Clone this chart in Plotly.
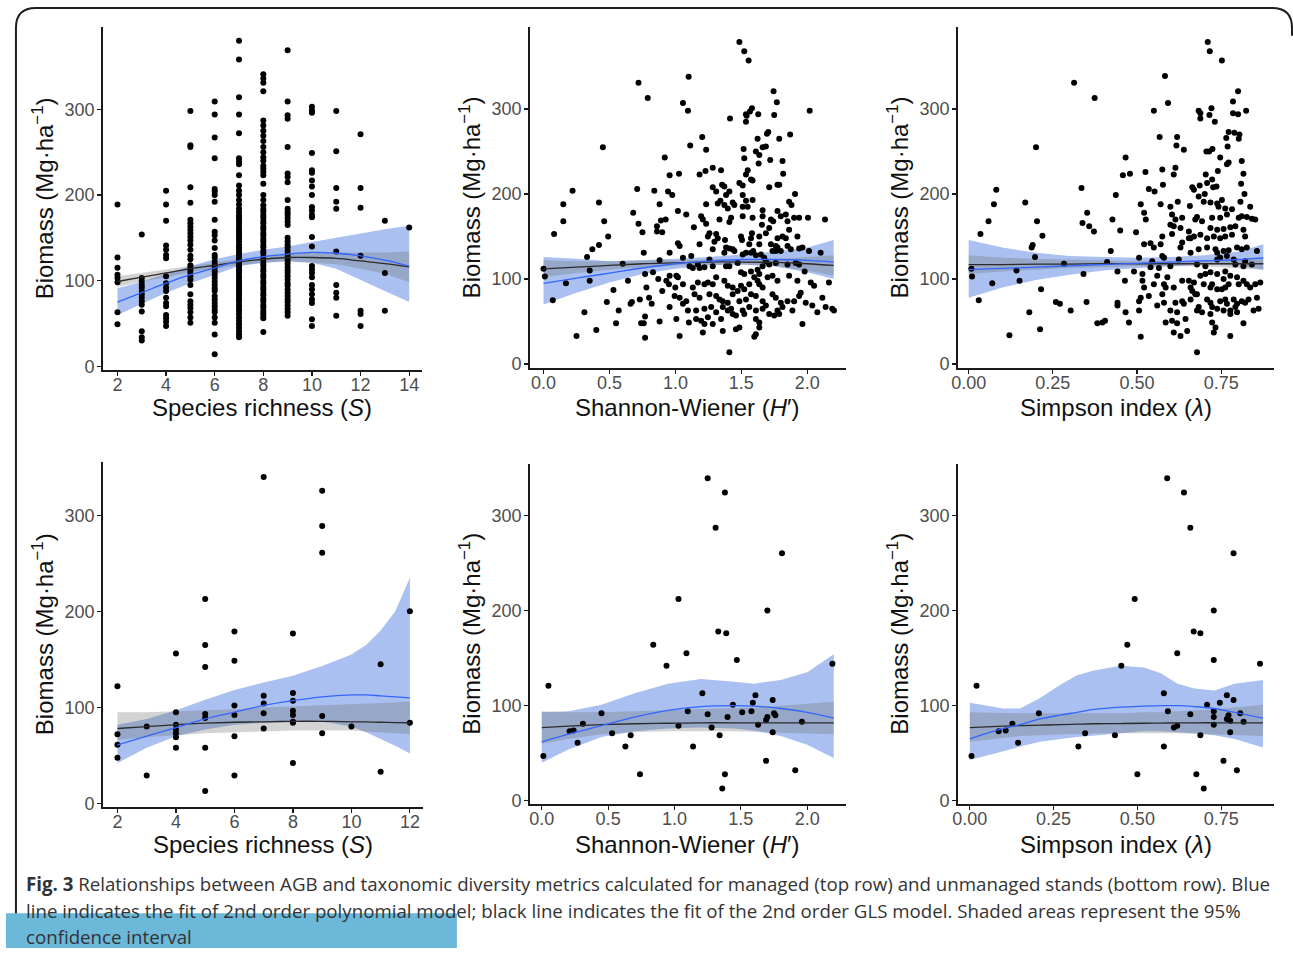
import plotly.graph_objects as go

W, H = 1293, 955

# ---------------- data ----------------
# Managed stands (top row)
top_S_values = [2, 3, 4, 5, 6, 7, 8, 9, 10, 11, 12, 13, 14]
top_S_biomass = [
    [189, 127, 115, 107, 103, 98, 63, 49],
    [154, 103, 99, 95, 92, 88, 84, 80, 76, 72, 64, 41, 34, 30],
    [205, 189, 170, 141, 136, 130, 126, 105, 97, 92, 88, 80, 74, 70, 60, 56, 52, 47],
    [298, 258, 256, 209, 191, 171, 167, 163, 159, 155, 151, 147, 142, 136, 129, 125, 118, 115, 112, 109,
     105, 101, 95, 84, 76, 72, 68, 63, 57, 51],
    [309, 294, 267, 243, 207, 204, 200, 192, 171, 157, 153, 147, 138, 130, 127, 122, 118, 115, 111, 107,
     103, 99, 95, 91, 88, 82, 78, 74, 70, 66, 63, 57, 51, 37, 14],
    [380, 358, 314, 294, 272, 243, 239, 236, 223, 211, 205, 200, 194, 189, 184, 180, 176, 173, 171, 168,
     164, 161, 158, 155, 152, 149, 146, 142, 139, 136, 133, 130, 127, 124, 121, 118, 115, 112, 109, 105,
     102, 99, 96, 93, 90, 87, 84, 81, 78, 75, 71, 68, 65, 61, 57, 53, 49, 45, 41, 37, 34],
    [341, 336, 331, 321, 287, 281, 275, 269, 263, 256, 250, 244, 240, 234, 231, 227, 223, 213, 200, 194,
     188, 184, 181, 177, 174, 170, 167, 163, 160, 156, 153, 149, 146, 142, 139, 135, 132, 128, 125, 121,
     118, 114, 111, 107, 104, 100, 97, 93, 90, 86, 83, 79, 76, 72, 69, 65, 62, 59, 56, 40],
    [369, 309, 293, 289, 256, 225, 221, 215, 194, 184, 180, 177, 173, 169, 165, 150, 146, 142, 139, 135,
     131, 128, 124, 120, 116, 112, 109, 105, 101, 97, 94, 90, 86, 82, 78, 75, 71, 67, 63, 59],
    [303, 299, 296, 249, 229, 226, 217, 210, 200, 186, 182, 177, 174, 151, 140, 117, 113, 109, 104, 95,
     90, 84, 78, 74, 55, 47],
    [298, 251, 208, 192, 184, 134, 95, 86, 80, 59],
    [271, 208, 185, 129, 65, 61, 47],
    [170, 109, 65],
    [162],
]

top_H_points = [
    (0.00, 112), (0.01, 103), (0.07, 75), (0.08, 153), (0.15, 188), (0.15, 168), (0.17, 95), (0.22, 204),
    (0.25, 33), (0.31, 61), (0.33, 126), (0.35, 110), (0.35, 98), (0.37, 135), (0.40, 40), (0.42, 190),
    (0.42, 140), (0.45, 255), (0.46, 168), (0.48, 73), (0.49, 150), (0.53, 87), (0.55, 48), (0.57, 63),
    (0.60, 118), (0.64, 98), (0.66, 71), (0.67, 73), (0.68, 178), (0.71, 206), (0.72, 165), (0.72, 331),
    (0.73, 76), (0.74, 48), (0.75, 155), (0.76, 131), (0.76, 48), (0.77, 56), (0.77, 106), (0.77, 31),
    (0.78, 90), (0.79, 313), (0.80, 78), (0.82, 71), (0.83, 108), (0.84, 204), (0.86, 162), (0.86, 156),
    (0.87, 100), (0.88, 50), (0.88, 188), (0.88, 122), (0.89, 169), (0.90, 86), (0.90, 155),
    (1.485, 379), (1.522, 368), (1.555, 357), (1.100, 338), (1.744, 321), (1.769, 308), (1.057, 307),
    (1.095, 298), (1.580, 301), (1.565, 297), (1.535, 294), (1.540, 292), (1.628, 294), (1.749, 293),
    (1.414, 289), (1.535, 285), (2.018, 298), (1.704, 273), (1.694, 271), (1.203, 267), (1.623, 265),
    (1.787, 265), (1.870, 270), (1.112, 257), (1.233, 252), (1.517, 253), (1.661, 255), (1.686, 256),
    (1.610, 250), (1.636, 246), (0.919, 243), (1.522, 242), (1.719, 240), (1.812, 239), (1.631, 236),
    (1.283, 231), (1.228, 227), (1.183, 223), (1.346, 228), (0.956, 222), (1.027, 224), (1.548, 228),
    (1.817, 224), (1.535, 223), (1.573, 217), (1.585, 216), (1.485, 213), (1.510, 210), (1.354, 211),
    (1.283, 208), (1.309, 203), (1.371, 209), (1.409, 203), (1.711, 208), (1.774, 211), (1.787, 211),
    (0.944, 203), (0.976, 199), (1.907, 200), (1.510, 199), (1.384, 199), (1.341, 192), (1.434, 190),
    (1.321, 189), (1.371, 187), (1.447, 187), (1.535, 192), (1.585, 193), (1.233, 188), (1.862, 191),
    (1.880, 187), (1.397, 183), (1.510, 185), (1.548, 185), (1.019, 180), (1.082, 176), (1.661, 181),
    (1.774, 180), (1.799, 174), (1.837, 176), (1.195, 174), (1.208, 170), (1.233, 165), (1.140, 161),
    (0.926, 170), (1.422, 172), (1.510, 174), (1.661, 174), (1.585, 172), (1.724, 170), (1.741, 168),
    (1.900, 172), (1.938, 172), (2.005, 172), (2.134, 170), (1.409, 167), (1.334, 170), (1.656, 164),
    (1.711, 160), (1.850, 168), (1.862, 158), (1.258, 154), (1.246, 150), (1.309, 153), (1.321, 148),
    (1.580, 154), (1.573, 148), (1.636, 150), (1.376, 146), (1.497, 150), (1.505, 146), (1.686, 154),
    (1.774, 148), (1.812, 150), (1.837, 148), (1.925, 150), (1.019, 142), (1.032, 139), (1.183, 141),
    (1.296, 144), (1.560, 141), (1.636, 141), (1.724, 141), (1.761, 139), (1.774, 137), (1.850, 139),
    (1.283, 135), (1.384, 137), (1.409, 136), (1.434, 135), (1.447, 133), (1.371, 131), (1.510, 129),
    (1.535, 131), (1.573, 131), (1.590, 133), (1.610, 128), (1.648, 129), (1.673, 125), (1.686, 121),
    (1.736, 133), (1.761, 133), (1.799, 133), (1.875, 135), (1.938, 136), (1.963, 137), (2.013, 133),
    (2.101, 131), (0.956, 131), (1.120, 127), (1.057, 125), (1.258, 123), (1.283, 115), (1.170, 117),
    (1.183, 113), (1.132, 113), (1.107, 115), (1.220, 114), (1.384, 115), (1.409, 115), (1.472, 119),
    (1.497, 108), (1.522, 106), (1.573, 109), (1.623, 111), (1.636, 106), (1.661, 115), (1.711, 117),
    (1.761, 119), (1.850, 117), (1.912, 119), (1.938, 117), (1.980, 109), (0.956, 104), (0.931, 98),
    (1.007, 104), (1.019, 102), (0.951, 94), (0.999, 90), (1.057, 94), (1.132, 90), (1.170, 96),
    (1.220, 94), (1.246, 96), (1.283, 94), (1.309, 102), (1.371, 98), (1.397, 92), (1.434, 90),
    (1.472, 86), (1.497, 92), (1.522, 88), (1.560, 94), (1.598, 102), (1.623, 98), (1.636, 94),
    (1.661, 90), (1.699, 102), (1.736, 104), (1.774, 98), (1.862, 104), (1.925, 98), (2.026, 96),
    (2.051, 92), (2.164, 96), (0.994, 80), (1.032, 78), (1.082, 74), (1.145, 82), (1.183, 78),
    (1.258, 82), (1.309, 80), (1.334, 76), (1.359, 74), (1.397, 72), (1.434, 82), (1.485, 74),
    (1.535, 76), (1.573, 82), (1.610, 80), (1.661, 74), (1.686, 69), (1.736, 82), (1.761, 78),
    (1.799, 72), (1.850, 74), (1.900, 74), (1.938, 80), (1.950, 84), (1.988, 72), (2.114, 78),
    (2.139, 67), (2.202, 63), (2.189, 65), (0.956, 67), (1.057, 71), (1.095, 63), (1.157, 63),
    (1.220, 65), (1.271, 67), (1.309, 61), (1.359, 67), (1.397, 63), (1.422, 65), (1.434, 59),
    (1.510, 63), (1.560, 67), (1.610, 63), (1.661, 65), (1.711, 59), (1.749, 57), (1.774, 63),
    (1.787, 59), (1.812, 67), (1.887, 63), (2.038, 69), (2.076, 61), (1.007, 53), (1.102, 49),
    (1.157, 53), (1.195, 51), (1.246, 55), (1.283, 47), (1.346, 53), (1.459, 57), (1.522, 59),
    (1.610, 53), (1.636, 49), (1.220, 47), (1.485, 43), (1.636, 43), (1.963, 47), (1.032, 33),
    (1.208, 37), (1.359, 39), (1.459, 41), (1.610, 35), (1.598, 32), (1.409, 14),
]

top_L_points = [
    (0.008, 112), (0.010, 103), (0.030, 75), (0.035, 153), (0.059, 168), (0.070, 95), (0.075, 188),
    (0.082, 205), (0.121, 34), (0.142, 110), (0.151, 98), (0.168, 190), (0.180, 61), (0.187, 137),
    (0.190, 140), (0.197, 126), (0.200, 255), (0.203, 168), (0.212, 41), (0.215, 88), (0.219, 151),
    (0.259, 73), (0.271, 71), (0.283, 118), (0.303, 63), (0.313, 331), (0.335, 207), (0.338, 166),
    (0.341, 106), (0.350, 73), (0.352, 178), (0.358, 162), (0.372, 156), (0.374, 313), (0.382, 48),
    (0.397, 49), (0.405, 51), (0.411, 120),
    (0.710, 379), (0.716, 368), (0.752, 357), (0.583, 339), (0.800, 321), (0.592, 307), (0.550, 298),
    (0.785, 309), (0.683, 298), (0.688, 295), (0.688, 289), (0.721, 301), (0.715, 293), (0.731, 285),
    (0.824, 298), (0.785, 295), (0.800, 294), (0.567, 267), (0.619, 267), (0.617, 257), (0.639, 252),
    (0.772, 273), (0.765, 266), (0.789, 272), (0.804, 270), (0.802, 265), (0.769, 256), (0.706, 250),
    (0.714, 250), (0.724, 253), (0.466, 243), (0.614, 231), (0.609, 223), (0.575, 229), (0.525, 226),
    (0.479, 224), (0.458, 222), (0.747, 243), (0.772, 237), (0.767, 235), (0.811, 239), (0.740, 227),
    (0.816, 224), (0.704, 223), (0.723, 217), (0.708, 213), (0.577, 211), (0.535, 206), (0.552, 203),
    (0.664, 208), (0.669, 205), (0.686, 210), (0.701, 200), (0.726, 208), (0.736, 209), (0.809, 212),
    (0.819, 200), (0.437, 199), (0.683, 197), (0.698, 191), (0.752, 193), (0.718, 190), (0.738, 189),
    (0.742, 185), (0.762, 183), (0.782, 182), (0.807, 191), (0.836, 185), (0.511, 188), (0.570, 188),
    (0.599, 185), (0.621, 191), (0.657, 186), (0.521, 178), (0.526, 170), (0.604, 176), (0.614, 170),
    (0.634, 172), (0.678, 173), (0.673, 170), (0.693, 168), (0.723, 172), (0.747, 172), (0.767, 176),
    (0.802, 172), (0.811, 174), (0.826, 173), (0.841, 171), (0.851, 170), (0.427, 170), (0.450, 157),
    (0.497, 155), (0.599, 164), (0.609, 162), (0.629, 160), (0.654, 156), (0.669, 150), (0.688, 152),
    (0.718, 160), (0.738, 158), (0.757, 159), (0.777, 161), (0.792, 162), (0.816, 158), (0.575, 150),
    (0.604, 153), (0.654, 148), (0.659, 148), (0.708, 148), (0.728, 150), (0.747, 148), (0.762, 150),
    (0.782, 152), (0.821, 150), (0.521, 141), (0.540, 142), (0.550, 137), (0.570, 141), (0.634, 143),
    (0.629, 137), (0.683, 135), (0.708, 137), (0.733, 135), (0.738, 131), (0.757, 133), (0.772, 134),
    (0.797, 137), (0.811, 135), (0.826, 137), (0.856, 133), (0.575, 127), (0.580, 125), (0.624, 123),
    (0.659, 131), (0.506, 125), (0.422, 133), (0.545, 121), (0.540, 114), (0.565, 113), (0.599, 115),
    (0.678, 117), (0.703, 115), (0.738, 123), (0.747, 125), (0.767, 127), (0.787, 123), (0.821, 121),
    (0.792, 117), (0.816, 115), (0.841, 117), (0.442, 109), (0.491, 109), (0.516, 106), (0.560, 104),
    (0.590, 102), (0.634, 98), (0.654, 98), (0.669, 96), (0.688, 104), (0.703, 106), (0.718, 108),
    (0.738, 106), (0.762, 109), (0.777, 104), (0.757, 100), (0.797, 102), (0.816, 98), (0.464, 98),
    (0.516, 98), (0.521, 90), (0.550, 94), (0.580, 94), (0.585, 90), (0.609, 90), (0.659, 90),
    (0.664, 86), (0.673, 82), (0.698, 94), (0.718, 90), (0.723, 94), (0.738, 88), (0.752, 88),
    (0.762, 90), (0.772, 94), (0.802, 94), (0.826, 94), (0.836, 90), (0.866, 96), (0.851, 94),
    (0.442, 72), (0.442, 69), (0.506, 74), (0.511, 78), (0.535, 80), (0.575, 82), (0.580, 72),
    (0.614, 72), (0.634, 74), (0.639, 71), (0.659, 76), (0.678, 82), (0.683, 67), (0.708, 76),
    (0.718, 72), (0.723, 67), (0.747, 74), (0.762, 76), (0.767, 71), (0.787, 76), (0.797, 71),
    (0.811, 74), (0.821, 72), (0.831, 76), (0.856, 78), (0.466, 61), (0.506, 63), (0.560, 69),
    (0.599, 63), (0.619, 61), (0.678, 63), (0.693, 61), (0.718, 59), (0.738, 65), (0.757, 63),
    (0.777, 63), (0.792, 67), (0.797, 61), (0.846, 63), (0.861, 65), (0.476, 49), (0.585, 49),
    (0.604, 51), (0.619, 48), (0.644, 53), (0.723, 49), (0.733, 43), (0.777, 59), (0.816, 48),
    (0.511, 32), (0.609, 37), (0.629, 33), (0.649, 39), (0.728, 37), (0.777, 33), (0.678, 14),
]

# Unmanaged stands (bottom row)
bot_S_values = [2, 3, 4, 5, 6, 7, 8, 9, 10, 11, 12]
bot_S_biomass = [
    [122, 72, 61, 47.5],
    [80, 29],
    [156, 95, 82, 77, 73, 69, 58],
    [213, 165, 142, 93, 89, 58, 13],
    [179, 148.5, 102, 92, 70, 29],
    [340, 112, 104, 94, 78],
    [177, 115, 107, 96.5, 92, 85, 84, 42],
    [325.5, 289, 261, 91, 73],
    [80],
    [145, 33],
    [200, 84],
]

bot_H_points = [
    (0.012, 47), (0.05, 121), (0.21, 73), (0.24, 74), (0.27, 61), (0.31, 81), (0.45, 92), (0.53, 71),
    (0.63, 57), (0.67, 69), (0.74, 28), (0.84, 164), (0.94, 142), (1.03, 212), (1.03, 79), (1.09, 155),
    (1.10, 94), (1.14, 57), (1.21, 113), (1.25, 339), (1.25, 91), (1.28, 77), (1.31, 287), (1.33, 178),
    (1.34, 69), (1.36, 13), (1.38, 28), (1.38, 324), (1.39, 176), (1.40, 88), (1.44, 101), (1.47, 148),
    (1.51, 93), (1.58, 94), (1.59, 103), (1.61, 111), (1.63, 80), (1.69, 85), (1.70, 88), (1.70, 200),
    (1.69, 42), (1.74, 106), (1.74, 72), (1.75, 92), (1.76, 90), (1.81, 260), (1.91, 32), (1.96, 83),
    (2.19, 144),
]

bot_L_points = [
    (0.005, 47), (0.02, 121), (0.086, 73), (0.107, 74), (0.127, 81), (0.144, 61), (0.206, 92),
    (0.324, 57), (0.344, 71), (0.433, 69), (0.452, 142), (0.470, 164), (0.492, 212), (0.50, 28),
    (0.579, 113), (0.579, 57), (0.589, 339), (0.591, 94), (0.609, 77), (0.619, 155), (0.619, 79),
    (0.639, 324), (0.658, 287), (0.658, 91), (0.668, 178), (0.676, 28), (0.688, 176), (0.688, 69),
    (0.698, 13), (0.708, 101), (0.728, 200), (0.728, 148), (0.728, 94), (0.728, 88), (0.728, 80),
    (0.746, 103), (0.757, 42), (0.767, 111), (0.767, 86), (0.772, 90), (0.777, 84), (0.777, 72),
    (0.787, 106), (0.787, 260), (0.797, 32), (0.807, 92), (0.817, 83), (0.866, 144),
]

# Fitted curves and 95% CI (blue: polynomial model, black: GLS model)
p1_x = [2, 3, 4, 5, 6, 7, 8, 9, 10, 11, 12, 13, 14]
p1_blue = [75, 86, 97, 107, 115, 123, 128, 131, 133, 132, 129, 124, 117]
p1_blue_lo = [60, 73, 86, 97, 107, 117, 121, 123, 121, 114, 101, 88, 75]
p1_blue_hi = [91, 99, 108, 117, 125, 131, 136, 140, 145, 150, 155, 160, 164]
p1_black = [99, 104, 109, 114, 118, 122, 125, 127, 127, 126, 123, 120, 116]
p1_gray_lo = [93, 99, 104, 110, 114, 118, 121, 122, 121, 119, 114, 108, 98]
p1_gray_hi = [105, 109, 113, 117, 121, 125, 128, 131, 133, 133, 133, 133, 134]

p2_x = [0, 0.25, 0.5, 0.75, 1.0, 1.25, 1.5, 1.75, 2.0, 2.2]
p2_blue = [95, 101, 107, 113, 118, 121, 123, 123, 122, 120]
p2_blue_lo = [70, 84, 96, 106, 112, 116, 117, 115, 108, 100]
p2_blue_hi = [126, 124, 121, 122, 124, 126, 129, 132, 137, 146]
p2_black = [112, 114, 116, 118, 119, 120, 120, 119.5, 118, 116]
p2_gray_lo = [102, 107, 111, 114, 116, 117, 117, 115, 110, 104]
p2_gray_hi = [122, 121, 121, 122, 122, 123, 123, 124, 126, 128]

p3_x = [0, 0.1, 0.2, 0.3, 0.4, 0.5, 0.6, 0.7, 0.8, 0.875]
p3_blue = [111, 112.5, 114, 115.5, 117, 118.5, 120, 121.5, 123, 125]
p3_blue_lo = [78, 90, 99, 105, 110, 113, 115, 117, 116, 111]
p3_blue_hi = [146, 137, 131, 127, 126, 125, 126, 128, 132, 141]
p3_black = [117, 117, 117.5, 117.5, 118, 118, 118, 118, 118, 118]
p3_gray_lo = [106, 109, 111, 113, 114, 115, 115, 115, 113, 111]
p3_gray_hi = [128, 125, 124, 123, 122, 121, 121, 121, 123, 126]

p4_x = [2, 3, 4, 5, 6, 7, 8, 9, 10, 10.5, 11, 11.5, 12]
p4_blue = [61, 70, 79, 88, 95, 102, 107, 111, 113, 113, 112, 111, 110]
p4_blue_lo = [42, 58, 70, 77, 82, 84, 85, 85, 80, 74, 67, 60, 52]
p4_blue_hi = [82, 88, 97, 108, 118, 126, 133, 143, 155, 165, 180, 200, 235]
p4_black = [78, 80, 82, 83.5, 84.5, 85, 85.5, 85.5, 85, 84.8, 84.5, 84.2, 84]
p4_gray_lo = [66, 69, 71, 73, 74, 75, 76, 76, 76, 75, 74, 73, 72]
p4_gray_hi = [95, 95, 96, 97, 98, 100, 101, 102, 103, 103.5, 104, 105, 106]

p5_x = [0, 0.2, 0.45, 0.7, 0.95, 1.2, 1.45, 1.6, 1.8, 2.0, 2.2]
p5_blue = [62, 70, 79, 88, 95, 99, 100, 99.5, 97, 93, 87]
p5_blue_lo = [40, 54, 67, 73, 76, 77, 76, 74, 68, 59, 45]
p5_blue_hi = [93, 94, 101, 113, 123, 128, 125, 123, 127, 135, 154]
p5_black = [77, 78.5, 80, 81, 81.5, 82, 82, 82, 82, 82, 82]
p5_gray_lo = [60, 65, 70, 72, 73, 73, 73, 73, 72, 71, 70]
p5_gray_hi = [94, 93, 93, 94, 95, 96, 97, 98, 100, 102, 104]

p6_x = [0, 0.1, 0.15, 0.21, 0.27, 0.32, 0.37, 0.45, 0.52, 0.57, 0.62, 0.67, 0.73, 0.79, 0.875]
p6_blue = [65, 76, 80, 86, 90, 93, 96, 98.5, 99.5, 100, 100, 99, 97, 93, 87]
p6_blue_lo = [43, 52, 57, 62, 65, 67, 69, 71, 73, 73, 72, 71, 69, 65, 56]
p6_blue_hi = [103, 97, 97, 108, 122, 132, 137, 142, 140, 134, 123, 118, 116, 123, 127]
p6_black = [77, 78.5, 79, 79.5, 80, 80.5, 81, 81.2, 81.5, 81.7, 81.8, 82, 82, 82, 82]
p6_gray_lo = [62, 66, 68, 69, 70, 70, 71, 71, 71, 71, 71, 70, 70, 69, 68]
p6_gray_hi = [93, 92, 92, 92, 92, 92, 92, 92, 93, 93, 94, 95, 96, 98, 101]

y_ticks = [0, 100, 200, 300]
S_ticks_top = [2, 4, 6, 8, 10, 12, 14]
S_ticks_bot = [2, 4, 6, 8, 10, 12]
H_ticks = [0.0, 0.5, 1.0, 1.5, 2.0]
H_tick_text = ["0.0", "0.5", "1.0", "1.5", "2.0"]
L_ticks = [0.0, 0.25, 0.5, 0.75]
L_tick_text = ["0.00", "0.25", "0.50", "0.75"]

x_titles = ["Species richness (<i>S</i>)", "Shannon-Wiener (<i>H</i>′)", "Simpson index (<i>λ</i>)"]
y_title = "Biomass (Mg·ha<sup>−1</sup>)"
caption_lines = [
    "<b>Fig. 3</b> Relationships between AGB and taxonomic diversity metrics calculated for managed "
    "(top row) and unmanaged stands (bottom row). Blue",
    "line indicates the fit of 2nd order polynomial model; black line indicates the fit of the 2nd "
    "order GLS model. Shaded areas represent the 95%",
    "confidence interval",
]

# ---------------- layout geometry (pixels) ----------------
panels = [
    dict(box=(97, 418, 27, 373), xr=[1.386, 14.53], yr=[-4.6, 396.3], xt=S_ticks_top, xtt=None),
    dict(box=(526, 844, 27, 371), xr=[-0.106, 2.294], yr=[-5.0, 396.8], xt=H_ticks, xtt=H_tick_text),
    dict(box=(956, 1274, 27, 371), xr=[-0.033, 0.907], yr=[-5.0, 396.8], xt=L_ticks, xtt=L_tick_text),
    dict(box=(97, 419, 465, 813), xr=[1.49, 12.45], yr=[-3.8, 356], xt=S_ticks_bot, xtt=None),
    dict(box=(526, 844, 467, 810), xr=[-0.092, 2.293], yr=[-3.4, 354.3], xt=H_ticks, xtt=H_tick_text),
    dict(box=(956, 1274, 467, 810), xr=[-0.0366, 0.908], yr=[-3.4, 354.3], xt=L_ticks, xtt=L_tick_text),
]

fits = [
    (p1_x, p1_blue, p1_blue_lo, p1_blue_hi, p1_black, p1_gray_lo, p1_gray_hi),
    (p2_x, p2_blue, p2_blue_lo, p2_blue_hi, p2_black, p2_gray_lo, p2_gray_hi),
    (p3_x, p3_blue, p3_blue_lo, p3_blue_hi, p3_black, p3_gray_lo, p3_gray_hi),
    (p4_x, p4_blue, p4_blue_lo, p4_blue_hi, p4_black, p4_gray_lo, p4_gray_hi),
    (p5_x, p5_blue, p5_blue_lo, p5_blue_hi, p5_black, p5_gray_lo, p5_gray_hi),
    (p6_x, p6_blue, p6_blue_lo, p6_blue_hi, p6_black, p6_gray_lo, p6_gray_hi),
]


def flatten_columns(xvals, cols):
    xs, ys = [], []
    for xv, col in zip(xvals, cols):
        for v in col:
            xs.append(xv)
            ys.append(v)
    return xs, ys


scatter_data = [
    flatten_columns(top_S_values, top_S_biomass),
    ([p[0] for p in top_H_points], [p[1] for p in top_H_points]),
    ([p[0] for p in top_L_points], [p[1] for p in top_L_points]),
    flatten_columns(bot_S_values, bot_S_biomass),
    ([p[0] for p in bot_H_points], [p[1] for p in bot_H_points]),
    ([p[0] for p in bot_L_points], [p[1] for p in bot_L_points]),
]

BLUE_FILL = "rgba(85,129,225,0.50)"
GRAY_FILL = "rgba(110,110,110,0.30)"
FONT = "Liberation Sans, Arial, sans-serif"

fig = go.Figure()
layout_axes = {}

for i, (p, fit, pts) in enumerate(zip(panels, fits, scatter_data), start=1):
    xa = "x" if i == 1 else f"x{i}"
    ya = "y" if i == 1 else f"y{i}"
    x0, x1, yt, yb = p["box"]
    common = dict(
        showline=True, linecolor="#1a1a1a", linewidth=1.5, ticks="outside", ticklen=4,
        tickwidth=1.2, tickcolor="#1a1a1a", showgrid=False, zeroline=False, fixedrange=True,
        tickfont=dict(family=FONT, size=18, color="#4d4d4d"),
    )
    xdict = dict(common, domain=[x0 / W, x1 / W], range=p["xr"], anchor=ya, tickvals=p["xt"],
                 ticklabelstandoff=-6)
    if p["xtt"] is not None:
        xdict["ticktext"] = p["xtt"]
    ydict = dict(common, domain=[1 - yb / H, 1 - yt / H], range=p["yr"], anchor=xa, tickvals=y_ticks,
                 ticklabelstandoff=-1)
    layout_axes["xaxis" if i == 1 else f"xaxis{i}"] = xdict
    layout_axes["yaxis" if i == 1 else f"yaxis{i}"] = ydict

    fx, fb, fblo, fbhi, fk, fglo, fghi = fit
    # blue ribbon
    fig.add_trace(go.Scatter(
        x=list(fx) + list(fx)[::-1], y=list(fbhi) + list(fblo)[::-1], fill="toself",
        fillcolor=BLUE_FILL, line=dict(width=0), mode="lines", hoverinfo="skip",
        showlegend=False, xaxis=xa, yaxis=ya))
    # gray ribbon
    fig.add_trace(go.Scatter(
        x=list(fx) + list(fx)[::-1], y=list(fghi) + list(fglo)[::-1], fill="toself",
        fillcolor=GRAY_FILL, line=dict(width=0), mode="lines", hoverinfo="skip",
        showlegend=False, xaxis=xa, yaxis=ya))
    # points
    fig.add_trace(go.Scatter(
        x=pts[0], y=pts[1], mode="markers", marker=dict(size=6, color="black"),
        showlegend=False, xaxis=xa, yaxis=ya))
    # fitted lines
    fig.add_trace(go.Scatter(
        x=fx, y=fk, mode="lines", line=dict(color="#2b2b2b", width=1.3, shape="spline"),
        showlegend=False, xaxis=xa, yaxis=ya))
    fig.add_trace(go.Scatter(
        x=fx, y=fb, mode="lines", line=dict(color="#3366FF", width=1.3, shape="spline"),
        showlegend=False, xaxis=xa, yaxis=ya))

annotations = []
for i, p in enumerate(panels):
    x0, x1, yt, yb = p["box"]
    col = i % 3
    xt_y = 411 if i < 3 else 851
    annotations.append(dict(
        text=x_titles[col], x=(x0 + x1) / 2 / W, y=1 - xt_y / H, xref="paper", yref="paper",
        showarrow=False, xanchor="center", yanchor="middle",
        font=dict(family=FONT, size=24, color="#111111")))
    annotations.append(dict(
        text=y_title, x=(x0 - 60) / W, y=1 - ((yt + yb) / 2) / H, xref="paper", yref="paper",
        showarrow=False, xanchor="center", yanchor="middle", textangle=-90,
        font=dict(family=FONT, size=24, color="#111111")))

caption_y = [890, 917, 943]
for line, cy in zip(caption_lines, caption_y):
    annotations.append(dict(
        text=line, x=18 / W, y=1 - cy / H, xref="paper", yref="paper", showarrow=False,
        xanchor="left", yanchor="middle",
        font=dict(family="Open Sans, Noto Sans, sans-serif", size=18.7, color="#333333")))


def px(x, y):
    return f"{x / W:.5f},{1 - y / H:.5f}"


border_path = (f"M {px(10, 955)} L {px(10, 28)} Q {px(10, 8)} {px(30, 8)} "
               f"L {px(1272, 8)} Q {px(1292, 8)} {px(1292, 28)} L {px(1292, 36)}")

shapes = [
    dict(type="path", path=border_path, xref="paper", yref="paper",
         line=dict(color="#1f1f1f", width=2)),
    dict(type="rect", x0=0, x1=453 / W, y0=0, y1=1 - 920 / H, xref="paper", yref="paper",
         fillcolor="#6bb8d9", line=dict(width=0), layer="above"),
]

fig.update_layout(
    width=W, height=H, autosize=False,
    margin=dict(l=0, r=0, t=0, b=0, pad=0),
    paper_bgcolor="white", plot_bgcolor="white",
    showlegend=False, annotations=annotations, shapes=shapes,
    **layout_axes,
)

fig.write_html(
    "out.html",
    config={"displayModeBar": False, "staticPlot": True},
    post_script=("document.documentElement.style.margin='0';document.body.style.margin='0';"
                 "document.body.style.padding='0';document.body.style.overflow='hidden';"),
)
